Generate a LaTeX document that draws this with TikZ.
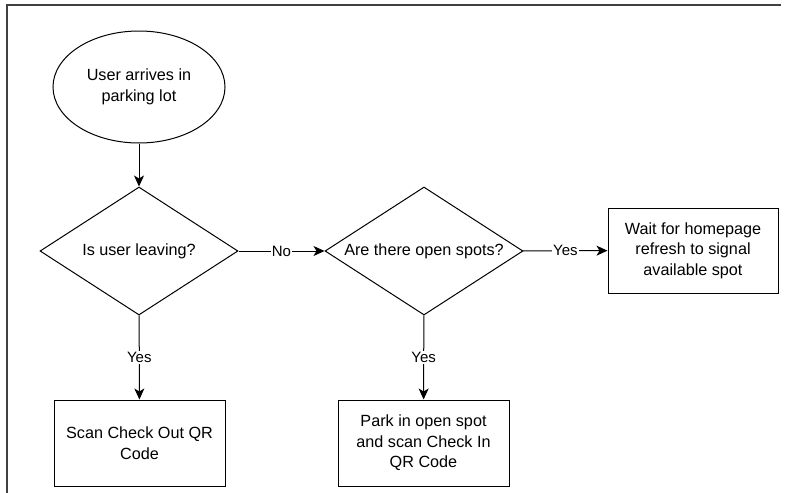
\documentclass[tikz,border=0pt]{standalone}
\usepackage{fontspec}
\setmainfont{Liberation Sans}
\usetikzlibrary{shapes.geometric,arrows.meta}
\begin{document}
\begin{tikzpicture}[x=1pt,y=-1pt,
  every node/.style={font=\fontsize{16.2}{20.5}\selectfont},
  startnode/.style={ellipse,draw,line width=1pt,minimum width=172pt,minimum height=112pt,inner sep=0pt,align=center},
  decision/.style={diamond,draw,line width=1pt,minimum width=198pt,minimum height=128pt,inner sep=0pt},
  procbox/.style={rectangle,draw,line width=1pt,minimum width=171pt,minimum height=86pt,inner sep=0pt,align=center},
  arr/.style={line width=1pt,-{Stealth[length=11pt,width=10pt,inset=3pt]}},
  lbl/.style={fill=white,inner sep=1pt,font=\fontsize{15}{18}\selectfont},
  frameline/.style={draw=black!75,line width=1.3pt}
]
\useasboundingbox (0,0) rectangle (788,493);
\coordinate (fa) at (7,493);
\coordinate (fb) at (7,5);
\coordinate (fc) at (781,5);
\draw[frameline] (fa) -- (fb) -- (fc);

\node[startnode] (start) at (139,87) {User arrives in\\parking lot};
\node[decision,label={center:Is user leaving?}] (d1) at (139,251) {};
\node[decision,label={center:Are there open spots?}] (d2) at (424,251) {};
\node[procbox,minimum width=170pt,minimum height=85pt] (wait) at (693,250.5) {Wait for homepage\\refresh to signal\\available spot};
\node[procbox] (scan) at (139.5,443) {Scan Check Out QR\\Code};
\node[procbox] (park) at (423.5,443) {Park in open spot\\and scan Check In\\QR Code};

\draw[arr] (start) -- (d1);
\draw[arr] (d1) -- node[lbl]{No} (d2);
\draw[arr] (d2) -- node[lbl]{Yes} (wait);
\draw[arr] (d1) -- node[lbl]{Yes} (scan);
\draw[arr] (d2) -- node[lbl]{Yes} (park);
\end{tikzpicture}
\end{document}
